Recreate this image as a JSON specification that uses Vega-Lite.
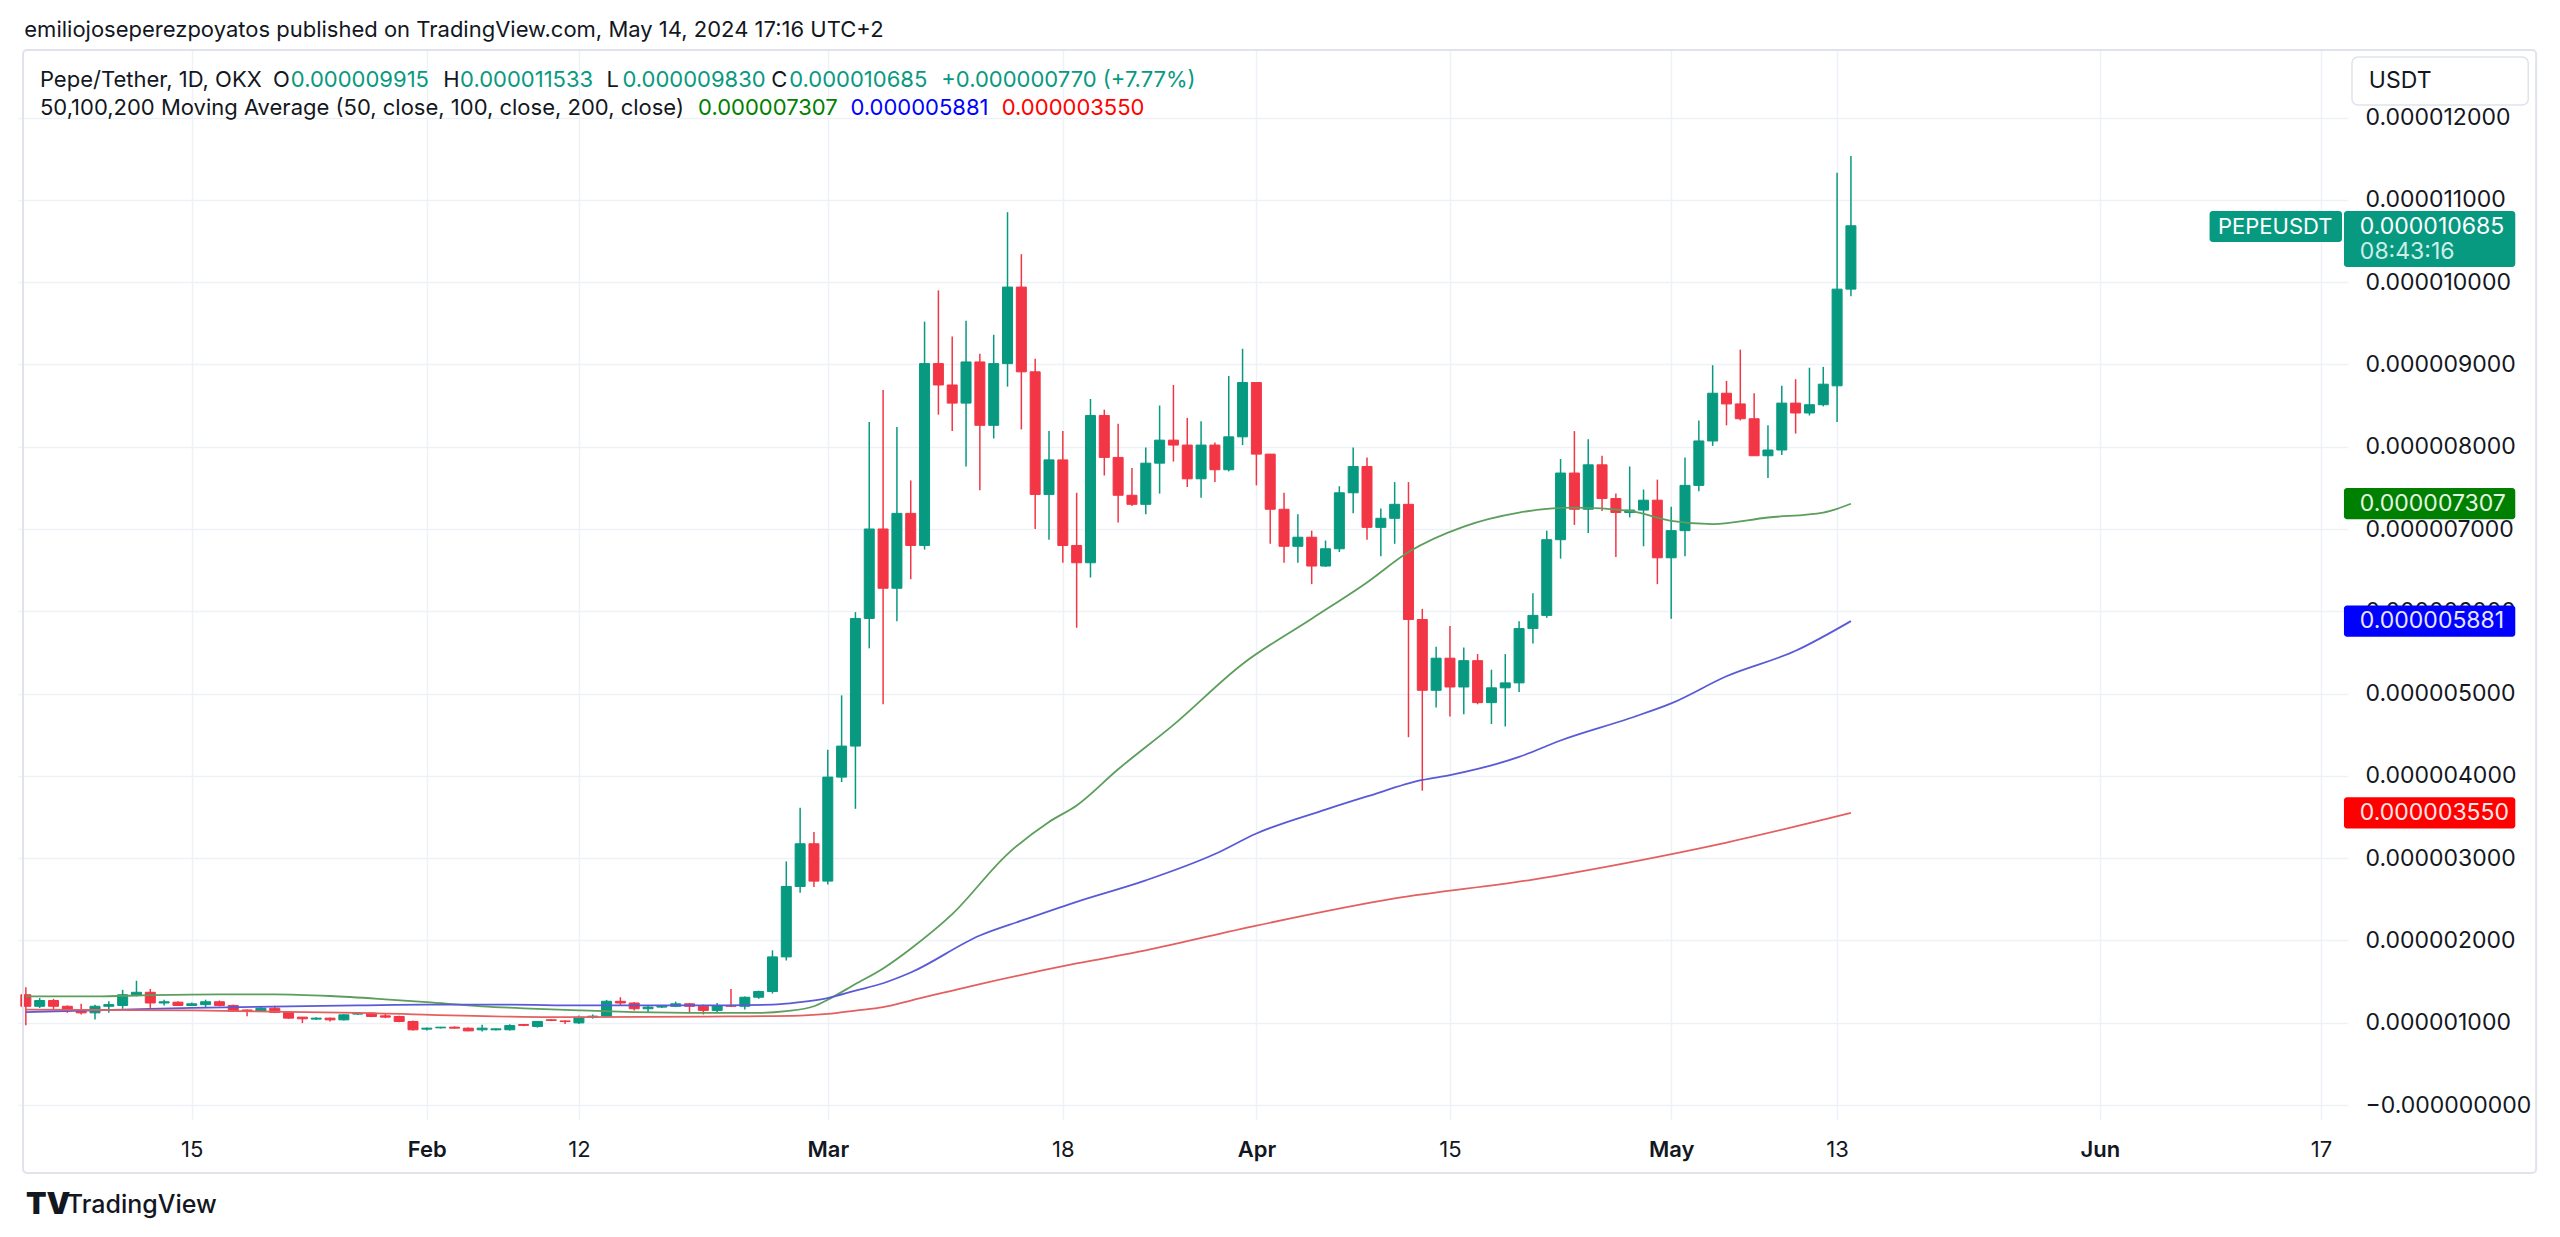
{
  "$schema": "https://vega.github.io/schema/vega-lite/v6.json",
  "width": 2330,
  "height": 1070,
  "autosize": {"type": "none"},
  "padding": {"left": 18, "top": 50, "right": 212, "bottom": 117},
  "background": "white",
  "datasets": {
    "candles": [
      {"d": "2024-01-03", "o": 1.34e-6, "h": 1.43e-6, "l": 0.97e-6, "c": 1.20e-6},
      {"d": "2024-01-04", "o": 1.20e-6, "h": 1.30e-6, "l": 1.18e-6, "c": 1.27e-6},
      {"d": "2024-01-05", "o": 1.27e-6, "h": 1.29e-6, "l": 1.16e-6, "c": 1.20e-6},
      {"d": "2024-01-06", "o": 1.20e-6, "h": 1.21e-6, "l": 1.12e-6, "c": 1.16e-6},
      {"d": "2024-01-07", "o": 1.16e-6, "h": 1.23e-6, "l": 1.10e-6, "c": 1.12e-6},
      {"d": "2024-01-08", "o": 1.12e-6, "h": 1.22e-6, "l": 1.04e-6, "c": 1.20e-6},
      {"d": "2024-01-09", "o": 1.20e-6, "h": 1.26e-6, "l": 1.12e-6, "c": 1.22e-6},
      {"d": "2024-01-10", "o": 1.21e-6, "h": 1.40e-6, "l": 1.17e-6, "c": 1.34e-6},
      {"d": "2024-01-11", "o": 1.33e-6, "h": 1.51e-6, "l": 1.32e-6, "c": 1.37e-6},
      {"d": "2024-01-12", "o": 1.37e-6, "h": 1.41e-6, "l": 1.18e-6, "c": 1.24e-6},
      {"d": "2024-01-13", "o": 1.24e-6, "h": 1.28e-6, "l": 1.21e-6, "c": 1.255e-6},
      {"d": "2024-01-14", "o": 1.25e-6, "h": 1.26e-6, "l": 1.205e-6, "c": 1.21e-6},
      {"d": "2024-01-15", "o": 1.21e-6, "h": 1.245e-6, "l": 1.205e-6, "c": 1.23e-6},
      {"d": "2024-01-16", "o": 1.22e-6, "h": 1.28e-6, "l": 1.19e-6, "c": 1.255e-6},
      {"d": "2024-01-17", "o": 1.255e-6, "h": 1.27e-6, "l": 1.20e-6, "c": 1.21e-6},
      {"d": "2024-01-18", "o": 1.21e-6, "h": 1.22e-6, "l": 1.13e-6, "c": 1.14e-6},
      {"d": "2024-01-19", "o": 1.155e-6, "h": 1.16e-6, "l": 1.08e-6, "c": 1.14e-6},
      {"d": "2024-01-20", "o": 1.14e-6, "h": 1.20e-6, "l": 1.13e-6, "c": 1.177e-6},
      {"d": "2024-01-21", "o": 1.177e-6, "h": 1.206e-6, "l": 1.117e-6, "c": 1.125e-6},
      {"d": "2024-01-22", "o": 1.125e-6, "h": 1.137e-6, "l": 1.048e-6, "c": 1.056e-6},
      {"d": "2024-01-23", "o": 1.068e-6, "h": 1.07e-6, "l": 0.995e-6, "c": 1.048e-6},
      {"d": "2024-01-24", "o": 1.044e-6, "h": 1.068e-6, "l": 1.035e-6, "c": 1.056e-6},
      {"d": "2024-01-25", "o": 1.056e-6, "h": 1.064e-6, "l": 1.015e-6, "c": 1.035e-6},
      {"d": "2024-01-26", "o": 1.035e-6, "h": 1.104e-6, "l": 1.027e-6, "c": 1.096e-6},
      {"d": "2024-01-27", "o": 1.105e-6, "h": 1.121e-6, "l": 1.096e-6, "c": 1.112e-6},
      {"d": "2024-01-28", "o": 1.117e-6, "h": 1.129e-6, "l": 1.068e-6, "c": 1.076e-6},
      {"d": "2024-01-29", "o": 1.084e-6, "h": 1.117e-6, "l": 1.056e-6, "c": 1.068e-6},
      {"d": "2024-01-30", "o": 1.076e-6, "h": 1.084e-6, "l": 1.007e-6, "c": 1.015e-6},
      {"d": "2024-01-31", "o": 1.015e-6, "h": 1.027e-6, "l": 0.906e-6, "c": 0.914e-6},
      {"d": "2024-02-01", "o": 0.922e-6, "h": 0.942e-6, "l": 0.906e-6, "c": 0.934e-6},
      {"d": "2024-02-02", "o": 0.938e-6, "h": 0.950e-6, "l": 0.930e-6, "c": 0.946e-6},
      {"d": "2024-02-03", "o": 0.946e-6, "h": 0.955e-6, "l": 0.930e-6, "c": 0.934e-6},
      {"d": "2024-02-04", "o": 0.934e-6, "h": 0.942e-6, "l": 0.897e-6, "c": 0.901e-6},
      {"d": "2024-02-05", "o": 0.914e-6, "h": 0.975e-6, "l": 0.893e-6, "c": 0.934e-6},
      {"d": "2024-02-06", "o": 0.914e-6, "h": 0.930e-6, "l": 0.906e-6, "c": 0.926e-6},
      {"d": "2024-02-07", "o": 0.914e-6, "h": 0.983e-6, "l": 0.906e-6, "c": 0.966e-6},
      {"d": "2024-02-08", "o": 0.978e-6, "h": 0.982e-6, "l": 0.958e-6, "c": 0.968e-6},
      {"d": "2024-02-09", "o": 0.955e-6, "h": 1.02e-6, "l": 0.94e-6, "c": 1.016e-6},
      {"d": "2024-02-10", "o": 1.036e-6, "h": 1.04e-6, "l": 1.02e-6, "c": 1.028e-6},
      {"d": "2024-02-11", "o": 1.022e-6, "h": 1.028e-6, "l": 0.986e-6, "c": 1.014e-6},
      {"d": "2024-02-12", "o": 0.998e-6, "h": 1.087e-6, "l": 0.986e-6, "c": 1.067e-6},
      {"d": "2024-02-13", "o": 1.067e-6, "h": 1.10e-6, "l": 1.05e-6, "c": 1.08e-6},
      {"d": "2024-02-14", "o": 1.08e-6, "h": 1.278e-6, "l": 1.067e-6, "c": 1.261e-6},
      {"d": "2024-02-15", "o": 1.26e-6, "h": 1.31e-6, "l": 1.21e-6, "c": 1.24e-6},
      {"d": "2024-02-16", "o": 1.24e-6, "h": 1.25e-6, "l": 1.15e-6, "c": 1.17e-6},
      {"d": "2024-02-17", "o": 1.17e-6, "h": 1.21e-6, "l": 1.12e-6, "c": 1.19e-6},
      {"d": "2024-02-18", "o": 1.19e-6, "h": 1.21e-6, "l": 1.18e-6, "c": 1.20e-6},
      {"d": "2024-02-19", "o": 1.20e-6, "h": 1.257e-6, "l": 1.19e-6, "c": 1.23e-6},
      {"d": "2024-02-20", "o": 1.23e-6, "h": 1.24e-6, "l": 1.12e-6, "c": 1.20e-6},
      {"d": "2024-02-21", "o": 1.20e-6, "h": 1.22e-6, "l": 1.10e-6, "c": 1.15e-6},
      {"d": "2024-02-22", "o": 1.15e-6, "h": 1.24e-6, "l": 1.13e-6, "c": 1.21e-6},
      {"d": "2024-02-23", "o": 1.21e-6, "h": 1.41e-6, "l": 1.19e-6, "c": 1.20e-6},
      {"d": "2024-02-24", "o": 1.20e-6, "h": 1.32e-6, "l": 1.16e-6, "c": 1.31e-6},
      {"d": "2024-02-25", "o": 1.31e-6, "h": 1.39e-6, "l": 1.29e-6, "c": 1.38e-6},
      {"d": "2024-02-26", "o": 1.38e-6, "h": 1.88e-6, "l": 1.355e-6, "c": 1.80e-6},
      {"d": "2024-02-27", "o": 1.80e-6, "h": 2.96e-6, "l": 1.756e-6, "c": 2.656e-6},
      {"d": "2024-02-28", "o": 2.656e-6, "h": 3.612e-6, "l": 2.579e-6, "c": 3.175e-6},
      {"d": "2024-02-29", "o": 3.175e-6, "h": 3.317e-6, "l": 2.648e-6, "c": 2.721e-6},
      {"d": "2024-03-01", "o": 2.721e-6, "h": 4.318e-6, "l": 2.68e-6, "c": 3.985e-6},
      {"d": "2024-03-02", "o": 3.985e-6, "h": 4.978e-6, "l": 3.925e-6, "c": 4.362e-6},
      {"d": "2024-03-03", "o": 4.362e-6, "h": 5.99e-6, "l": 3.60e-6, "c": 5.913e-6},
      {"d": "2024-03-04", "o": 5.913e-6, "h": 8.30e-6, "l": 5.55e-6, "c": 7.00e-6},
      {"d": "2024-03-05", "o": 7.00e-6, "h": 8.69e-6, "l": 4.87e-6, "c": 6.28e-6},
      {"d": "2024-03-06", "o": 6.28e-6, "h": 8.24e-6, "l": 5.88e-6, "c": 7.19e-6},
      {"d": "2024-03-07", "o": 7.19e-6, "h": 7.59e-6, "l": 6.39e-6, "c": 6.80e-6},
      {"d": "2024-03-08", "o": 6.80e-6, "h": 9.52e-6, "l": 6.75e-6, "c": 9.01e-6},
      {"d": "2024-03-09", "o": 9.01e-6, "h": 9.90e-6, "l": 8.39e-6, "c": 8.75e-6},
      {"d": "2024-03-10", "o": 8.75e-6, "h": 9.34e-6, "l": 8.19e-6, "c": 8.53e-6},
      {"d": "2024-03-11", "o": 8.53e-6, "h": 9.53e-6, "l": 7.76e-6, "c": 9.03e-6},
      {"d": "2024-03-12", "o": 9.03e-6, "h": 9.13e-6, "l": 7.47e-6, "c": 8.26e-6},
      {"d": "2024-03-13", "o": 8.26e-6, "h": 9.36e-6, "l": 8.10e-6, "c": 9.01e-6},
      {"d": "2024-03-14", "o": 9.01e-6, "h": 10.85e-6, "l": 8.73e-6, "c": 9.94e-6},
      {"d": "2024-03-15", "o": 9.94e-6, "h": 10.34e-6, "l": 8.21e-6, "c": 8.91e-6},
      {"d": "2024-03-16", "o": 8.91e-6, "h": 9.07e-6, "l": 7.00e-6, "c": 7.42e-6},
      {"d": "2024-03-17", "o": 7.42e-6, "h": 8.19e-6, "l": 6.87e-6, "c": 7.84e-6},
      {"d": "2024-03-18", "o": 7.84e-6, "h": 8.19e-6, "l": 6.59e-6, "c": 6.80e-6},
      {"d": "2024-03-19", "o": 6.80e-6, "h": 7.44e-6, "l": 5.80e-6, "c": 6.59e-6},
      {"d": "2024-03-20", "o": 6.59e-6, "h": 8.58e-6, "l": 6.41e-6, "c": 8.38e-6},
      {"d": "2024-03-21", "o": 8.38e-6, "h": 8.45e-6, "l": 7.65e-6, "c": 7.87e-6},
      {"d": "2024-03-22", "o": 7.87e-6, "h": 8.28e-6, "l": 7.08e-6, "c": 7.41e-6},
      {"d": "2024-03-23", "o": 7.41e-6, "h": 7.74e-6, "l": 7.28e-6, "c": 7.30e-6},
      {"d": "2024-03-24", "o": 7.30e-6, "h": 7.99e-6, "l": 7.18e-6, "c": 7.80e-6},
      {"d": "2024-03-25", "o": 7.80e-6, "h": 8.50e-6, "l": 7.43e-6, "c": 8.08e-6},
      {"d": "2024-03-26", "o": 8.08e-6, "h": 8.75e-6, "l": 7.82e-6, "c": 8.02e-6},
      {"d": "2024-03-27", "o": 8.02e-6, "h": 8.35e-6, "l": 7.51e-6, "c": 7.61e-6},
      {"d": "2024-03-28", "o": 7.61e-6, "h": 8.31e-6, "l": 7.38e-6, "c": 8.02e-6},
      {"d": "2024-03-29", "o": 8.02e-6, "h": 8.05e-6, "l": 7.57e-6, "c": 7.72e-6},
      {"d": "2024-03-30", "o": 7.72e-6, "h": 8.86e-6, "l": 7.70e-6, "c": 8.12e-6},
      {"d": "2024-03-31", "o": 8.12e-6, "h": 9.19e-6, "l": 8.02e-6, "c": 8.78e-6},
      {"d": "2024-04-01", "o": 8.78e-6, "h": 8.78e-6, "l": 7.53e-6, "c": 7.91e-6},
      {"d": "2024-04-02", "o": 7.91e-6, "h": 7.91e-6, "l": 6.82e-6, "c": 7.24e-6},
      {"d": "2024-04-03", "o": 7.24e-6, "h": 7.44e-6, "l": 6.59e-6, "c": 6.79e-6},
      {"d": "2024-04-04", "o": 6.79e-6, "h": 7.18e-6, "l": 6.59e-6, "c": 6.90e-6},
      {"d": "2024-04-05", "o": 6.90e-6, "h": 6.98e-6, "l": 6.33e-6, "c": 6.55e-6},
      {"d": "2024-04-06", "o": 6.55e-6, "h": 6.86e-6, "l": 6.54e-6, "c": 6.76e-6},
      {"d": "2024-04-07", "o": 6.76e-6, "h": 7.52e-6, "l": 6.72e-6, "c": 7.44e-6},
      {"d": "2024-04-08", "o": 7.44e-6, "h": 7.99e-6, "l": 7.19e-6, "c": 7.76e-6},
      {"d": "2024-04-09", "o": 7.76e-6, "h": 7.87e-6, "l": 6.87e-6, "c": 7.02e-6},
      {"d": "2024-04-10", "o": 7.02e-6, "h": 7.25e-6, "l": 6.67e-6, "c": 7.13e-6},
      {"d": "2024-04-11", "o": 7.13e-6, "h": 7.57e-6, "l": 6.82e-6, "c": 7.30e-6},
      {"d": "2024-04-12", "o": 7.30e-6, "h": 7.57e-6, "l": 4.47e-6, "c": 5.90e-6},
      {"d": "2024-04-13", "o": 5.90e-6, "h": 6.03e-6, "l": 3.82e-6, "c": 5.04e-6},
      {"d": "2024-04-14", "o": 5.04e-6, "h": 5.57e-6, "l": 4.83e-6, "c": 5.43e-6},
      {"d": "2024-04-15", "o": 5.43e-6, "h": 5.82e-6, "l": 4.72e-6, "c": 5.08e-6},
      {"d": "2024-04-16", "o": 5.08e-6, "h": 5.56e-6, "l": 4.75e-6, "c": 5.40e-6},
      {"d": "2024-04-17", "o": 5.40e-6, "h": 5.48e-6, "l": 4.87e-6, "c": 4.89e-6},
      {"d": "2024-04-18", "o": 4.89e-6, "h": 5.29e-6, "l": 4.63e-6, "c": 5.07e-6},
      {"d": "2024-04-19", "o": 5.07e-6, "h": 5.48e-6, "l": 4.60e-6, "c": 5.13e-6},
      {"d": "2024-04-20", "o": 5.13e-6, "h": 5.88e-6, "l": 5.02e-6, "c": 5.79e-6},
      {"d": "2024-04-21", "o": 5.79e-6, "h": 6.22e-6, "l": 5.61e-6, "c": 5.95e-6},
      {"d": "2024-04-22", "o": 5.95e-6, "h": 6.98e-6, "l": 5.92e-6, "c": 6.87e-6},
      {"d": "2024-04-23", "o": 6.87e-6, "h": 7.85e-6, "l": 6.64e-6, "c": 7.68e-6},
      {"d": "2024-04-24", "o": 7.68e-6, "h": 8.19e-6, "l": 7.05e-6, "c": 7.24e-6},
      {"d": "2024-04-25", "o": 7.24e-6, "h": 8.09e-6, "l": 6.95e-6, "c": 7.78e-6},
      {"d": "2024-04-26", "o": 7.78e-6, "h": 7.89e-6, "l": 7.22e-6, "c": 7.37e-6},
      {"d": "2024-04-27", "o": 7.37e-6, "h": 7.43e-6, "l": 6.66e-6, "c": 7.20e-6},
      {"d": "2024-04-28", "o": 7.20e-6, "h": 7.76e-6, "l": 7.14e-6, "c": 7.23e-6},
      {"d": "2024-04-29", "o": 7.23e-6, "h": 7.48e-6, "l": 6.79e-6, "c": 7.35e-6},
      {"d": "2024-04-30", "o": 7.35e-6, "h": 7.60e-6, "l": 6.33e-6, "c": 6.65e-6},
      {"d": "2024-05-01", "o": 6.65e-6, "h": 7.27e-6, "l": 5.91e-6, "c": 6.98e-6},
      {"d": "2024-05-02", "o": 6.98e-6, "h": 7.87e-6, "l": 6.67e-6, "c": 7.53e-6},
      {"d": "2024-05-03", "o": 7.53e-6, "h": 8.32e-6, "l": 7.46e-6, "c": 8.07e-6},
      {"d": "2024-05-04", "o": 8.07e-6, "h": 8.99e-6, "l": 8.01e-6, "c": 8.65e-6},
      {"d": "2024-05-05", "o": 8.65e-6, "h": 8.80e-6, "l": 8.26e-6, "c": 8.52e-6},
      {"d": "2024-05-06", "o": 8.52e-6, "h": 9.18e-6, "l": 8.32e-6, "c": 8.34e-6},
      {"d": "2024-05-07", "o": 8.34e-6, "h": 8.65e-6, "l": 7.89e-6, "c": 7.89e-6},
      {"d": "2024-05-08", "o": 7.89e-6, "h": 8.26e-6, "l": 7.62e-6, "c": 7.96e-6},
      {"d": "2024-05-09", "o": 7.96e-6, "h": 8.74e-6, "l": 7.90e-6, "c": 8.53e-6},
      {"d": "2024-05-10", "o": 8.53e-6, "h": 8.82e-6, "l": 8.16e-6, "c": 8.41e-6},
      {"d": "2024-05-11", "o": 8.41e-6, "h": 8.96e-6, "l": 8.38e-6, "c": 8.51e-6},
      {"d": "2024-05-12", "o": 8.51e-6, "h": 8.97e-6, "l": 8.49e-6, "c": 8.76e-6},
      {"d": "2024-05-13", "o": 8.74e-6, "h": 11.33e-6, "l": 8.30e-6, "c": 9.915e-6},
      {"d": "2024-05-14", "o": 9.915e-6, "h": 11.533e-6, "l": 9.830e-6, "c": 10.685e-6}
    ],
    "ma": [
      {"d": "2024-01-03", "v": 1.32e-6, "ma": "50"},
      {"d": "2024-01-08", "v": 1.32e-6, "ma": "50"},
      {"d": "2024-01-12", "v": 1.335e-6, "ma": "50"},
      {"d": "2024-01-17", "v": 1.345e-6, "ma": "50"},
      {"d": "2024-01-21", "v": 1.345e-6, "ma": "50"},
      {"d": "2024-01-25", "v": 1.325e-6, "ma": "50"},
      {"d": "2024-01-29", "v": 1.285e-6, "ma": "50"},
      {"d": "2024-02-01", "v": 1.25e-6, "ma": "50"},
      {"d": "2024-02-05", "v": 1.20e-6, "ma": "50"},
      {"d": "2024-02-08", "v": 1.175e-6, "ma": "50"},
      {"d": "2024-02-12", "v": 1.15e-6, "ma": "50"},
      {"d": "2024-02-16", "v": 1.13e-6, "ma": "50"},
      {"d": "2024-02-21", "v": 1.12e-6, "ma": "50"},
      {"d": "2024-02-25", "v": 1.12e-6, "ma": "50"},
      {"d": "2024-02-27", "v": 1.14e-6, "ma": "50"},
      {"d": "2024-02-29", "v": 1.20e-6, "ma": "50"},
      {"d": "2024-03-01", "v": 1.28e-6, "ma": "50"},
      {"d": "2024-03-03", "v": 1.47e-6, "ma": "50"},
      {"d": "2024-03-05", "v": 1.66e-6, "ma": "50"},
      {"d": "2024-03-07", "v": 1.90e-6, "ma": "50"},
      {"d": "2024-03-10", "v": 2.32e-6, "ma": "50"},
      {"d": "2024-03-14", "v": 3.05e-6, "ma": "50"},
      {"d": "2024-03-17", "v": 3.44e-6, "ma": "50"},
      {"d": "2024-03-19", "v": 3.64e-6, "ma": "50"},
      {"d": "2024-03-22", "v": 4.08e-6, "ma": "50"},
      {"d": "2024-03-26", "v": 4.62e-6, "ma": "50"},
      {"d": "2024-03-31", "v": 5.36e-6, "ma": "50"},
      {"d": "2024-04-05", "v": 5.91e-6, "ma": "50"},
      {"d": "2024-04-09", "v": 6.35e-6, "ma": "50"},
      {"d": "2024-04-12", "v": 6.72e-6, "ma": "50"},
      {"d": "2024-04-16", "v": 7.03e-6, "ma": "50"},
      {"d": "2024-04-20", "v": 7.20e-6, "ma": "50"},
      {"d": "2024-04-24", "v": 7.26e-6, "ma": "50"},
      {"d": "2024-04-28", "v": 7.22e-6, "ma": "50"},
      {"d": "2024-05-01", "v": 7.10e-6, "ma": "50"},
      {"d": "2024-05-04", "v": 7.06e-6, "ma": "50"},
      {"d": "2024-05-08", "v": 7.14e-6, "ma": "50"},
      {"d": "2024-05-12", "v": 7.20e-6, "ma": "50"},
      {"d": "2024-05-14", "v": 7.307e-6, "ma": "50"},
      {"d": "2024-01-03", "v": 1.13e-6, "ma": "100"},
      {"d": "2024-01-10", "v": 1.16e-6, "ma": "100"},
      {"d": "2024-01-15", "v": 1.18e-6, "ma": "100"},
      {"d": "2024-01-22", "v": 1.20e-6, "ma": "100"},
      {"d": "2024-01-27", "v": 1.21e-6, "ma": "100"},
      {"d": "2024-02-01", "v": 1.22e-6, "ma": "100"},
      {"d": "2024-02-07", "v": 1.22e-6, "ma": "100"},
      {"d": "2024-02-12", "v": 1.21e-6, "ma": "100"},
      {"d": "2024-02-20", "v": 1.21e-6, "ma": "100"},
      {"d": "2024-02-26", "v": 1.22e-6, "ma": "100"},
      {"d": "2024-02-28", "v": 1.25e-6, "ma": "100"},
      {"d": "2024-03-01", "v": 1.30e-6, "ma": "100"},
      {"d": "2024-03-03", "v": 1.39e-6, "ma": "100"},
      {"d": "2024-03-05", "v": 1.48e-6, "ma": "100"},
      {"d": "2024-03-07", "v": 1.61e-6, "ma": "100"},
      {"d": "2024-03-12", "v": 2.06e-6, "ma": "100"},
      {"d": "2024-03-15", "v": 2.24e-6, "ma": "100"},
      {"d": "2024-03-19", "v": 2.47e-6, "ma": "100"},
      {"d": "2024-03-24", "v": 2.73e-6, "ma": "100"},
      {"d": "2024-03-29", "v": 3.05e-6, "ma": "100"},
      {"d": "2024-04-01", "v": 3.30e-6, "ma": "100"},
      {"d": "2024-04-06", "v": 3.59e-6, "ma": "100"},
      {"d": "2024-04-09", "v": 3.75e-6, "ma": "100"},
      {"d": "2024-04-13", "v": 3.95e-6, "ma": "100"},
      {"d": "2024-04-15", "v": 4.01e-6, "ma": "100"},
      {"d": "2024-04-20", "v": 4.23e-6, "ma": "100"},
      {"d": "2024-04-23", "v": 4.43e-6, "ma": "100"},
      {"d": "2024-04-28", "v": 4.70e-6, "ma": "100"},
      {"d": "2024-05-01", "v": 4.88e-6, "ma": "100"},
      {"d": "2024-05-05", "v": 5.21e-6, "ma": "100"},
      {"d": "2024-05-10", "v": 5.52e-6, "ma": "100"},
      {"d": "2024-05-14", "v": 5.881e-6, "ma": "100"},
      {"d": "2024-01-03", "v": 1.16e-6, "ma": "200"},
      {"d": "2024-01-15", "v": 1.15e-6, "ma": "200"},
      {"d": "2024-01-27", "v": 1.12e-6, "ma": "200"},
      {"d": "2024-02-07", "v": 1.075e-6, "ma": "200"},
      {"d": "2024-02-12", "v": 1.067e-6, "ma": "200"},
      {"d": "2024-02-21", "v": 1.075e-6, "ma": "200"},
      {"d": "2024-02-28", "v": 1.087e-6, "ma": "200"},
      {"d": "2024-03-01", "v": 1.107e-6, "ma": "200"},
      {"d": "2024-03-03", "v": 1.148e-6, "ma": "200"},
      {"d": "2024-03-05", "v": 1.19e-6, "ma": "200"},
      {"d": "2024-03-07", "v": 1.27e-6, "ma": "200"},
      {"d": "2024-03-12", "v": 1.47e-6, "ma": "200"},
      {"d": "2024-03-19", "v": 1.72e-6, "ma": "200"},
      {"d": "2024-03-24", "v": 1.88e-6, "ma": "200"},
      {"d": "2024-04-01", "v": 2.18e-6, "ma": "200"},
      {"d": "2024-04-11", "v": 2.51e-6, "ma": "200"},
      {"d": "2024-04-21", "v": 2.74e-6, "ma": "200"},
      {"d": "2024-04-28", "v": 2.95e-6, "ma": "200"},
      {"d": "2024-05-05", "v": 3.19e-6, "ma": "200"},
      {"d": "2024-05-14", "v": 3.55e-6, "ma": "200"}
    ]
  },
  "layer": [
    {
      "data": {"name": "candles"},
      "mark": {"type": "rule", "strokeWidth": 1.5, "clip": true},
      "encoding": {
        "x": {
          "field": "d",
          "type": "temporal",
          "title": null,
          "scale": {"type": "utc", "domain": [1704222120000, 1718719800000]},
          "axis": {
            "values": [1705276800000, 1706745600000, 1707696000000, 1709251200000, 1710720000000, 1711929600000, 1713139200000, 1714521600000, 1715558400000, 1717200000000, 1718582400000],
            "labelExpr": "utcdate(datum.value) == 1 ? utcFormat(datum.value, '%b') : utcFormat(datum.value, '%-d')",
            "labelFontWeight": {"condition": {"test": "utcdate(datum.value) == 1", "value": 600}, "value": "normal"},
            "labelFont": "Inter",
            "labelFontSize": 22,
            "labelColor": "#131722",
            "labelBaseline": "middle",
            "labelPadding": 29,
            "labelFlush": false,
            "labelOverlap": false,
            "ticks": false,
            "domain": false,
            "grid": true,
            "gridColor": "#eef1f5",
            "gridWidth": 1.5
          }
        },
        "y": {
          "field": "l",
          "type": "quantitative",
          "title": null,
          "scale": {"domain": [-0.000000182, 0.000012821], "nice": false, "zero": false},
          "axis": {
            "orient": "right",
            "values": [0, 0.000001, 0.000002, 0.000003, 0.000004, 0.000005, 0.000006, 0.000007, 0.000008, 0.000009, 0.00001, 0.000011, 0.000012],
            "labelExpr": "datum.value == 0 ? '\u22120.000000000' : format(datum.value, '.9f')",
            "labelFont": "Inter",
            "labelFontSize": 23,
            "labelColor": "#131722",
            "labelAlign": "left",
            "labelBaseline": "middle",
            "labelPadding": 17,
            "labelOverlap": false,
            "labelFlush": false,
            "ticks": false,
            "domain": false,
            "grid": true,
            "gridColor": "#eef1f5",
            "gridWidth": 1.5
          }
        },
        "y2": {"field": "h"},
        "color": {"condition": {"test": "datum.c >= datum.o", "value": "#089981"}, "value": "#F23645"}
      }
    },
    {
      "data": {"name": "candles"},
      "mark": {"type": "bar", "size": 10, "strokeWidth": 1, "clip": true},
      "encoding": {
        "x": {"field": "d", "type": "temporal", "title": null},
        "y": {"field": "o", "type": "quantitative", "title": null},
        "y2": {"field": "c"},
        "color": {"condition": {"test": "datum.c >= datum.o", "value": "#089981"}, "value": "#F23645"},
        "stroke": {"condition": {"test": "datum.c >= datum.o", "value": "#089981"}, "value": "#F23645"}
      }
    },
    {
      "data": {"name": "ma"},
      "mark": {"type": "line", "strokeWidth": 1.8, "interpolate": "monotone", "clip": true},
      "encoding": {
        "x": {"field": "d", "type": "temporal", "title": null},
        "y": {"field": "v", "type": "quantitative", "title": null},
        "color": {
          "field": "ma",
          "type": "nominal",
          "scale": {"domain": ["50", "100", "200"], "range": ["#5c9e5c", "#5a5ad8", "#e46060"]},
          "legend": null
        }
      }
    },
    {
      "data": {"values": [{}]},
      "mark": {"type": "rect", "filled": false, "stroke": "#e0e3eb", "strokeWidth": 2, "cornerRadius": 4},
      "encoding": {
        "x": {"datum": {"year": 2024, "month": 1, "date": 2, "hours": 19, "minutes": 2, "utc": true}, "type": "temporal"},
        "x2": {"datum": {"year": 2024, "month": 7, "date": 2, "hours": 13, "minutes": 26, "utc": true}},
        "y": {"datum": -0.000000826, "type": "quantitative"},
        "y2": {"datum": 0.000012821}
      }
    },
    {
      "data": {"values": [{}]},
      "mark": {"type": "text", "text": "emiliojoseperezpoyatos published on TradingView.com, May 14, 2024 17:16 UTC+2", "align": "left", "baseline": "alphabetic", "font": "Inter", "fontSize": 22, "color": "#131722"},
      "encoding": {
        "x": {"datum": {"year": 2024, "month": 1, "date": 2, "hours": 21, "minutes": 17, "utc": true}, "type": "temporal"},
        "y": {"datum": 0.000012982, "type": "quantitative"}
      }
    },
    {
      "data": {"values": [{}]},
      "mark": {"type": "rect", "fill": "white", "stroke": "#e0e3eb", "strokeWidth": 1.5, "cornerRadius": 6},
      "encoding": {
        "x": {"datum": {"year": 2024, "month": 6, "date": 19, "hours": 5, "minutes": 45, "utc": true}, "type": "temporal"},
        "x2": {"datum": {"year": 2024, "month": 7, "date": 1, "hours": 23, "minutes": 46, "utc": true}},
        "y": {"datum": 0.000012152, "type": "quantitative"},
        "y2": {"datum": 0.000012736}
      }
    },
    {
      "data": {"values": [{}]},
      "mark": {"type": "text", "text": "USDT", "align": "left", "baseline": "middle", "font": "Inter", "fontSize": 23, "color": "#131722"},
      "encoding": {
        "x": {"datum": {"year": 2024, "month": 6, "date": 20, "hours": 11, "minutes": 2, "utc": true}, "type": "temporal"},
        "y": {"datum": 0.000012444, "type": "quantitative"}
      }
    },
    {
      "data": {"values": [{}]},
      "mark": {"type": "rect", "fill": "#089981", "cornerRadius": 3},
      "encoding": {
        "x": {"datum": {"year": 2024, "month": 6, "date": 8, "hours": 22, "minutes": 34, "utc": true}, "type": "temporal"},
        "x2": {"datum": {"year": 2024, "month": 6, "date": 18, "hours": 12, "minutes": 29, "utc": true}},
        "y": {"datum": 0.000010487, "type": "quantitative"},
        "y2": {"datum": 0.000010864}
      }
    },
    {
      "data": {"values": [{}]},
      "mark": {"type": "text", "text": "PEPEUSDT", "align": "center", "baseline": "middle", "font": "Inter", "fontSize": 22, "color": "white"},
      "encoding": {
        "x": {"datum": {"year": 2024, "month": 6, "date": 13, "hours": 16, "minutes": 34, "utc": true}, "type": "temporal"},
        "y": {"datum": 0.000010676, "type": "quantitative"}
      }
    },
    {
      "data": {"values": [{}]},
      "mark": {"type": "rect", "fill": "#089981", "cornerRadius": 3},
      "encoding": {
        "x": {"datum": {"year": 2024, "month": 6, "date": 18, "hours": 15, "minutes": 50, "utc": true}, "type": "temporal"},
        "x2": {"datum": {"year": 2024, "month": 7, "date": 1, "hours": 1, "minutes": 12, "utc": true}},
        "y": {"datum": 0.000010184, "type": "quantitative"},
        "y2": {"datum": 0.000010864}
      }
    },
    {
      "data": {"values": [{}]},
      "mark": {"type": "text", "text": "0.000010685", "align": "left", "baseline": "middle", "font": "Inter", "fontSize": 23, "color": "white"},
      "encoding": {
        "x": {"datum": {"year": 2024, "month": 6, "date": 19, "hours": 19, "minutes": 27, "utc": true}, "type": "temporal"},
        "y": {"datum": 0.00001067, "type": "quantitative"}
      }
    },
    {
      "data": {"values": [{}]},
      "mark": {"type": "text", "text": "08:43:16", "align": "left", "baseline": "middle", "font": "Inter", "fontSize": 23, "color": "#cdeee8"},
      "encoding": {
        "x": {"datum": {"year": 2024, "month": 6, "date": 19, "hours": 19, "minutes": 27, "utc": true}, "type": "temporal"},
        "y": {"datum": 0.000010366, "type": "quantitative"}
      }
    },
    {
      "data": {"values": [{}]},
      "mark": {"type": "rect", "fill": "#008000", "cornerRadius": 3},
      "encoding": {
        "x": {"datum": {"year": 2024, "month": 6, "date": 18, "hours": 15, "minutes": 50, "utc": true}, "type": "temporal"},
        "x2": {"datum": {"year": 2024, "month": 7, "date": 1, "hours": 1, "minutes": 12, "utc": true}},
        "y": {"datum": 0.000007117, "type": "quantitative"},
        "y2": {"datum": 0.000007497}
      }
    },
    {
      "data": {"values": [{}]},
      "mark": {"type": "text", "text": "0.000007307", "align": "left", "baseline": "middle", "font": "Inter", "fontSize": 23, "color": "#e3f7e3"},
      "encoding": {
        "x": {"datum": {"year": 2024, "month": 6, "date": 19, "hours": 19, "minutes": 27, "utc": true}, "type": "temporal"},
        "y": {"datum": 0.000007307, "type": "quantitative"}
      }
    },
    {
      "data": {"values": [{}]},
      "mark": {"type": "rect", "fill": "#0000FF", "cornerRadius": 3},
      "encoding": {
        "x": {"datum": {"year": 2024, "month": 6, "date": 18, "hours": 15, "minutes": 50, "utc": true}, "type": "temporal"},
        "x2": {"datum": {"year": 2024, "month": 7, "date": 1, "hours": 1, "minutes": 12, "utc": true}},
        "y": {"datum": 0.000005691, "type": "quantitative"},
        "y2": {"datum": 0.000006071}
      }
    },
    {
      "data": {"values": [{}]},
      "mark": {"type": "text", "text": "0.000005881", "align": "left", "baseline": "middle", "font": "Inter", "fontSize": 23, "color": "#e6e6ff"},
      "encoding": {
        "x": {"datum": {"year": 2024, "month": 6, "date": 19, "hours": 19, "minutes": 27, "utc": true}, "type": "temporal"},
        "y": {"datum": 0.000005881, "type": "quantitative"}
      }
    },
    {
      "data": {"values": [{}]},
      "mark": {"type": "rect", "fill": "#FF0000", "cornerRadius": 3},
      "encoding": {
        "x": {"datum": {"year": 2024, "month": 6, "date": 18, "hours": 15, "minutes": 50, "utc": true}, "type": "temporal"},
        "x2": {"datum": {"year": 2024, "month": 7, "date": 1, "hours": 1, "minutes": 12, "utc": true}},
        "y": {"datum": 0.00000336, "type": "quantitative"},
        "y2": {"datum": 0.00000374}
      }
    },
    {
      "data": {"values": [{}]},
      "mark": {"type": "text", "text": "0.000003550", "align": "left", "baseline": "middle", "font": "Inter", "fontSize": 23, "color": "#ffe6e6"},
      "encoding": {
        "x": {"datum": {"year": 2024, "month": 6, "date": 19, "hours": 19, "minutes": 27, "utc": true}, "type": "temporal"},
        "y": {"datum": 0.00000355, "type": "quantitative"}
      }
    },
    {
      "data": {"values": [{}]},
      "mark": {"type": "text", "text": "Pepe/Tether, 1D, OKX", "align": "left", "baseline": "alphabetic", "font": "Inter", "fontSize": 22, "color": "#131722"},
      "encoding": {
        "x": {"datum": {"year": 2024, "month": 1, "date": 4, "hours": 0, "minutes": 26, "utc": true}, "type": "temporal"},
        "y": {"datum": 0.000012367, "type": "quantitative"}
      }
    },
    {
      "data": {"values": [{}]},
      "mark": {"type": "text", "text": "O", "align": "left", "baseline": "alphabetic", "font": "Inter", "fontSize": 22, "color": "#131722"},
      "encoding": {
        "x": {"datum": {"year": 2024, "month": 1, "date": 20, "hours": 20, "minutes": 51, "utc": true}, "type": "temporal"},
        "y": {"datum": 0.000012367, "type": "quantitative"}
      }
    },
    {
      "data": {"values": [{}]},
      "mark": {"type": "text", "text": "0.000009915", "align": "left", "baseline": "alphabetic", "font": "Inter", "fontSize": 22, "color": "#089981"},
      "encoding": {
        "x": {"datum": {"year": 2024, "month": 1, "date": 22, "hours": 3, "minutes": 59, "utc": true}, "type": "temporal"},
        "y": {"datum": 0.000012367, "type": "quantitative"}
      }
    },
    {
      "data": {"values": [{}]},
      "mark": {"type": "text", "text": "H", "align": "left", "baseline": "alphabetic", "font": "Inter", "fontSize": 22, "color": "#131722"},
      "encoding": {
        "x": {"datum": {"year": 2024, "month": 2, "date": 2, "hours": 4, "minutes": 25, "utc": true}, "type": "temporal"},
        "y": {"datum": 0.000012367, "type": "quantitative"}
      }
    },
    {
      "data": {"values": [{}]},
      "mark": {"type": "text", "text": "0.000011533", "align": "left", "baseline": "alphabetic", "font": "Inter", "fontSize": 22, "color": "#089981"},
      "encoding": {
        "x": {"datum": {"year": 2024, "month": 2, "date": 3, "hours": 9, "minutes": 47, "utc": true}, "type": "temporal"},
        "y": {"datum": 0.000012367, "type": "quantitative"}
      }
    },
    {
      "data": {"values": [{}]},
      "mark": {"type": "text", "text": "L", "align": "left", "baseline": "alphabetic", "font": "Inter", "fontSize": 22, "color": "#131722"},
      "encoding": {
        "x": {"datum": {"year": 2024, "month": 2, "date": 13, "hours": 23, "minutes": 51, "utc": true}, "type": "temporal"},
        "y": {"datum": 0.000012367, "type": "quantitative"}
      }
    },
    {
      "data": {"values": [{}]},
      "mark": {"type": "text", "text": "0.000009830", "align": "left", "baseline": "alphabetic", "font": "Inter", "fontSize": 22, "color": "#089981"},
      "encoding": {
        "x": {"datum": {"year": 2024, "month": 2, "date": 15, "hours": 3, "minutes": 30, "utc": true}, "type": "temporal"},
        "y": {"datum": 0.000012367, "type": "quantitative"}
      }
    },
    {
      "data": {"values": [{}]},
      "mark": {"type": "text", "text": "C", "align": "left", "baseline": "alphabetic", "font": "Inter", "fontSize": 22, "color": "#131722"},
      "encoding": {
        "x": {"datum": {"year": 2024, "month": 2, "date": 25, "hours": 22, "minutes": 0, "utc": true}, "type": "temporal"},
        "y": {"datum": 0.000012367, "type": "quantitative"}
      }
    },
    {
      "data": {"values": [{}]},
      "mark": {"type": "text", "text": "0.000010685", "align": "left", "baseline": "alphabetic", "font": "Inter", "fontSize": 22, "color": "#089981"},
      "encoding": {
        "x": {"datum": {"year": 2024, "month": 2, "date": 27, "hours": 5, "minutes": 0, "utc": true}, "type": "temporal"},
        "y": {"datum": 0.000012367, "type": "quantitative"}
      }
    },
    {
      "data": {"values": [{}]},
      "mark": {"type": "text", "text": "+0.000000770 (+7.77%)", "align": "left", "baseline": "alphabetic", "font": "Inter", "fontSize": 22, "color": "#089981"},
      "encoding": {
        "x": {"datum": {"year": 2024, "month": 3, "date": 9, "hours": 5, "minutes": 0, "utc": true}, "type": "temporal"},
        "y": {"datum": 0.000012367, "type": "quantitative"}
      }
    },
    {
      "data": {"values": [{}]},
      "mark": {"type": "text", "text": "50,100,200 Moving Average (50, close, 100, close, 200, close)", "align": "left", "baseline": "alphabetic", "font": "Inter", "fontSize": 22, "color": "#131722"},
      "encoding": {
        "x": {"datum": {"year": 2024, "month": 1, "date": 4, "hours": 0, "minutes": 26, "utc": true}, "type": "temporal"},
        "y": {"datum": 0.000012031, "type": "quantitative"}
      }
    },
    {
      "data": {"values": [{}]},
      "mark": {"type": "text", "text": "0.000007307", "align": "left", "baseline": "alphabetic", "font": "Inter", "fontSize": 22, "color": "#008000"},
      "encoding": {
        "x": {"datum": {"year": 2024, "month": 2, "date": 20, "hours": 14, "minutes": 51, "utc": true}, "type": "temporal"},
        "y": {"datum": 0.000012031, "type": "quantitative"}
      }
    },
    {
      "data": {"values": [{}]},
      "mark": {"type": "text", "text": "0.000005881", "align": "left", "baseline": "alphabetic", "font": "Inter", "fontSize": 22, "color": "#0000FF"},
      "encoding": {
        "x": {"datum": {"year": 2024, "month": 3, "date": 2, "hours": 15, "minutes": 19, "utc": true}, "type": "temporal"},
        "y": {"datum": 0.000012031, "type": "quantitative"}
      }
    },
    {
      "data": {"values": [{}]},
      "mark": {"type": "text", "text": "0.000003550", "align": "left", "baseline": "alphabetic", "font": "Inter", "fontSize": 22, "color": "#FF0000"},
      "encoding": {
        "x": {"datum": {"year": 2024, "month": 3, "date": 13, "hours": 14, "minutes": 1, "utc": true}, "type": "temporal"},
        "y": {"datum": 0.000012031, "type": "quantitative"}
      }
    },
    {
      "data": {"values": [{}]},
      "mark": {"type": "text", "text": "TV", "align": "left", "baseline": "middle", "font": "Inter", "fontSize": 30, "fontWeight": 900, "color": "#131722"},
      "encoding": {
        "x": {"datum": {"year": 2024, "month": 1, "date": 3, "hours": 0, "minutes": 12, "utc": true}, "type": "temporal"},
        "y": {"datum": -0.000001215, "type": "quantitative"}
      }
    },
    {
      "data": {"values": [{}]},
      "mark": {"type": "text", "text": "TradingView", "align": "left", "baseline": "middle", "font": "Inter", "fontSize": 25, "fontWeight": 500, "color": "#131722"},
      "encoding": {
        "x": {"datum": {"year": 2024, "month": 1, "date": 5, "hours": 23, "minutes": 5, "utc": true}, "type": "temporal"},
        "y": {"datum": -0.000001215, "type": "quantitative"}
      }
    }
  ],
  "config": {
    "font": "Inter",
    "view": {"stroke": null}
  }
}
